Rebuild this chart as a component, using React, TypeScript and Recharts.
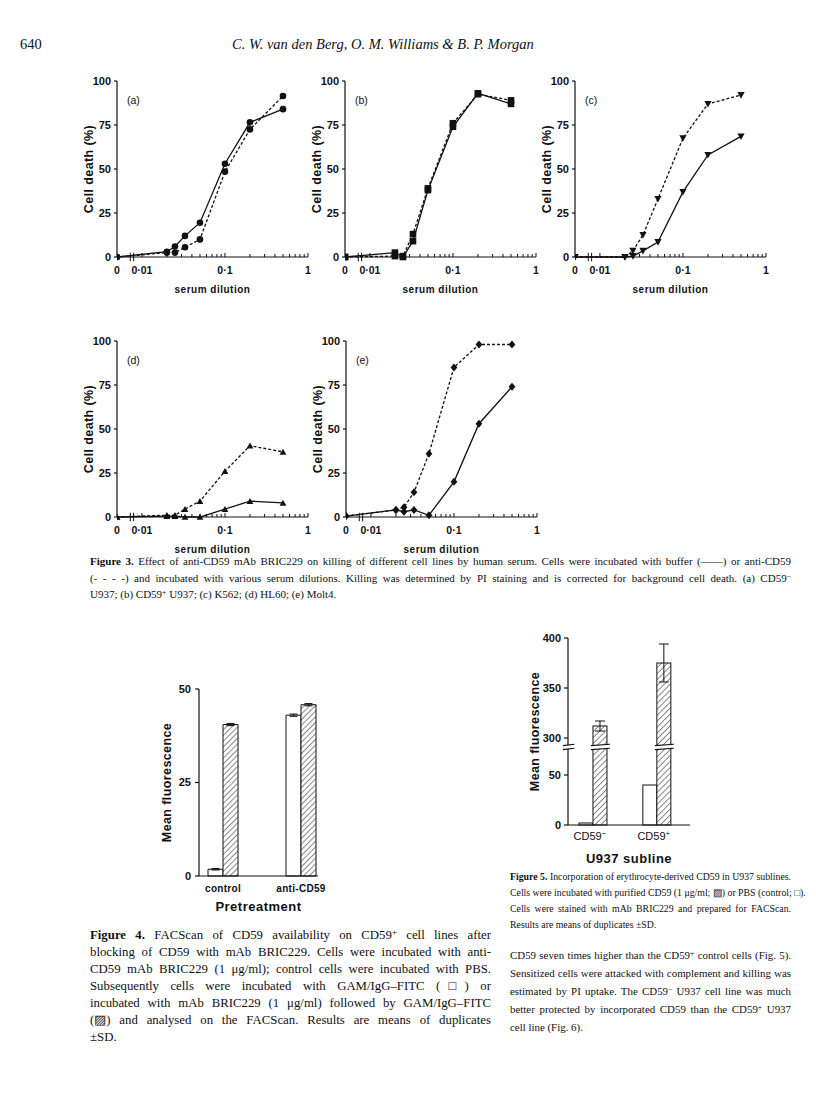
import React from "react";
import {
  LineChart,
  Line,
  XAxis,
  YAxis,
  BarChart,
  Bar,
  ErrorBar,
  ReferenceLine,
} from "recharts";

// ---------- Figure 3: cell death (%) vs serum dilution ----------
const DILUTIONS = [0, 0.02, 0.025, 0.033, 0.05, 0.1, 0.2, 0.5];
const X_TICK_VALUES = [0, 0.01, 0.1, 1];
const X_TICK_LABELS = ["0", "0·01", "0·1", "1"];
const Y_TICKS = [0, 25, 50, 75, 100];

const BUFFER_A = [0, 3, 6, 12, 19.5, 53, 76.5, 84];
const ANTI_A = [0, 2.5, 2.5, 5.5, 10, 48.5, 72.5, 91.5];
const BUFFER_B = [0, 2.5, 0, 9, 38, 74, 93, 87];
const ANTI_B = [0, 0.5, 0.5, 13, 39, 76, 92.5, 89];
const BUFFER_C = [0, 0, 0.5, 3.5, 8.5, 37, 58, 68.5];
const ANTI_C = [0, 0, 3.5, 12.5, 33, 67.5, 87, 92];
const BUFFER_D = [0, 0.5, 0.5, 0, 0, 4.5, 9, 8];
const ANTI_D = [0, 1, 1, 4.5, 9, 26, 40.5, 37];
const BUFFER_E = [0.5, 4, 3, 4, 1, 20, 53, 74];
const ANTI_E = [0.5, 4, 5.5, 14, 36, 85, 98, 98];

// ---------- Figure 4 ----------
const FIG4_GROUPS = ["control", "anti-CD59"];
const FIG4_GAM = [1.8, 43];
const FIG4_GAM_SD = [0.2, 0.3];
const FIG4_BRIC = [40.5, 45.8];
const FIG4_BRIC_SD = [0.3, 0.3];
const FIG4_TICKS = [0, 25, 50];

// ---------- Figure 5 ----------
const FIG5_GROUPS = ["−", "+"]; // CD59 superscript
const FIG5_PBS = [2, 40];
const FIG5_CD59 = [312, 375];
const FIG5_CD59_SD = [5, 19];
const FIG5_TICKS = [0, 50, 300, 350, 400];

const SANS = '"Liberation Sans", Arial, Helvetica, sans-serif';
const SERIF = '"Liberation Serif", "Times New Roman", serif';
const INK = "#111";

// log axis, the "0" dilution sits left of the break
const ZERO_POS = -2.3;
const toAxis = (d: number) => (d === 0 ? ZERO_POS : Math.log10(d));
const MINOR_TICKS = [0.01, 0.1].flatMap((dec) =>
  [2, 3, 4, 5, 6, 7, 8, 9].map((k) => Math.log10(k * dec))
);
const ALL_X_TICKS = [...X_TICK_VALUES.map(toAxis), ...MINOR_TICKS];

const LogTick = (props: any) => {
  const { x, y, payload } = props;
  const i = X_TICK_VALUES.findIndex((v) => Math.abs(toAxis(v) - payload.value) < 1e-6);
  if (i < 0) {
    return <line x1={x} x2={x} y1={y} y2={y - 3} stroke={INK} strokeWidth={1} />;
  }
  return (
    <g>
      {i > 0 && <line x1={x} x2={x} y1={y} y2={y - 4} stroke={INK} strokeWidth={1} />}
      <text x={x} y={y + 17} textAnchor="middle" fontSize={10.5} fontWeight={700} fontFamily={SANS} fill={INK}>
        {X_TICK_LABELS[i]}
      </text>
    </g>
  );
};

type Shape = "circle" | "square" | "triDown" | "triUp" | "diamond";

const renderDot = (shape: Shape) => (props: any) => {
  const { cx, cy, index } = props;
  const k = `d-${index}`;
  if (cx == null || cy == null) return <g key={k} />;
  switch (shape) {
    case "circle":
      return <circle key={k} cx={cx} cy={cy} r={3.3} fill={INK} />;
    case "square":
      return <rect key={k} x={cx - 3.3} y={cy - 3.3} width={6.6} height={6.6} fill={INK} />;
    case "triDown":
      return <path key={k} d={`M${cx - 3.6},${cy - 3} L${cx + 3.6},${cy - 3} L${cx},${cy + 3.6} Z`} fill={INK} />;
    case "triUp":
      return <path key={k} d={`M${cx - 3.4},${cy + 2.8} L${cx + 3.4},${cy + 2.8} L${cx},${cy - 3.2} Z`} fill={INK} />;
    default:
      return <path key={k} d={`M${cx},${cy - 4} L${cx + 3.4},${cy} L${cx},${cy + 4} L${cx - 3.4},${cy} Z`} fill={INK} />;
  }
};

const VTitle = ({ viewBox, offset, text, size }: any) => {
  const cx = viewBox.x + viewBox.width - offset;
  const cy = viewBox.y + viewBox.height / 2;
  return (
    <text
      x={cx}
      y={cy}
      transform={`rotate(-90 ${cx} ${cy})`}
      textAnchor="middle"
      dominantBaseline="central"
      fontSize={size}
      fontWeight={700}
      letterSpacing={0.4}
      fontFamily={SANS}
      fill={INK}
    >
      {text}
    </text>
  );
};

const HTitle = ({ viewBox, dy, text, size }: any) => (
  <text
    x={viewBox.x + viewBox.width / 2}
    y={viewBox.y + dy}
    textAnchor="middle"
    fontSize={size}
    fontWeight={700}
    letterSpacing={0.5}
    fontFamily={SANS}
    fill={INK}
  >
    {text}
  </text>
);

const AXIS = { stroke: INK, strokeWidth: 1.2 };
const TICK_STYLE = { fontSize: 11, fontWeight: 700, fill: INK, fontFamily: SANS };

const PW = 191;
const PH = 176;
const YW = 60;
const MT = 10;
const XH = 45;
const MR = 12;

interface PanelProps {
  letter: string;
  left: number;
  top: number;
  buffer: number[];
  anti: number[];
  shape: Shape;
}

function DeathPanel({ letter, left, top, buffer, anti, shape }: PanelProps) {
  const data = DILUTIONS.map((d, i) => ({ pos: toAxis(d), buffer: buffer[i], anti: anti[i] }));
  return (
    <div style={{ position: "absolute", left: left - YW, top: top - MT }}>
      <LineChart
        width={YW + PW + MR}
        height={MT + PH + XH}
        data={data}
        margin={{ top: MT, right: MR, bottom: 0, left: 0 }}
      >
        <XAxis
          type="number"
          dataKey="pos"
          domain={[ZERO_POS, 0]}
          ticks={ALL_X_TICKS}
          interval={0}
          allowDataOverflow
          tick={<LogTick />}
          tickLine={false}
          tickSize={0}
          tickMargin={0}
          height={XH}
          axisLine={AXIS}
          label={{ content: (p: any) => <HTitle viewBox={p.viewBox} dy={35.5} text="serum dilution" size={10} /> }}
        />
        <YAxis
          type="number"
          domain={[0, 100]}
          ticks={Y_TICKS}
          interval={0}
          width={YW}
          tickSize={3}
          tickMargin={3}
          axisLine={AXIS}
          tickLine={AXIS}
          tick={TICK_STYLE}
          label={{ content: (p: any) => <VTitle viewBox={p.viewBox} offset={28} text="Cell death (%)" size={12.5} /> }}
        />
        <ReferenceLine
          segment={[{ x: -2.14, y: -2.4 }, { x: -2.14, y: 2.4 }]}
          stroke={INK}
          strokeWidth={1}
          ifOverflow="visible"
        />
        <ReferenceLine
          segment={[{ x: -2.1, y: -2.4 }, { x: -2.1, y: 2.4 }]}
          stroke={INK}
          strokeWidth={1}
          ifOverflow="visible"
        />
        <Line
          dataKey="buffer"
          stroke={INK}
          strokeWidth={1.3}
          dot={renderDot(shape)}
          activeDot={false}
          isAnimationActive={false}
        />
        <Line
          dataKey="anti"
          stroke={INK}
          strokeWidth={1.3}
          strokeDasharray="3 2"
          dot={renderDot(shape)}
          activeDot={false}
          isAnimationActive={false}
        />
      </LineChart>
      <div
        style={{
          position: "absolute",
          left: YW + 10,
          top: MT + 13,
          fontFamily: SANS,
          fontSize: 10.5,
          color: INK,
        }}
      >
        ({letter})
      </div>
    </div>
  );
}

// ---------- Figure 4 ----------
const F4_PW = 119;
const F4_PH = 187;

const fig4Data = FIG4_GROUPS.map((g, i) => ({
  pos: i,
  gam: FIG4_GAM[i],
  gamSd: FIG4_GAM_SD[i],
  bric: FIG4_BRIC[i],
  bricSd: FIG4_BRIC_SD[i],
}));

const Fig4Tick = (props: any) => {
  const { x, y, payload } = props;
  return (
    <text x={x} y={y + 15.5} textAnchor="middle" fontSize={10} fontWeight={700} letterSpacing={0.3} fontFamily={SANS} fill={INK}>
      {FIG4_GROUPS[payload.value]}
    </text>
  );
};

function Figure4() {
  return (
    <div style={{ position: "absolute", left: 199 - 50, top: 689 - 10 }}>
      <BarChart
        width={50 + F4_PW + 20}
        height={10 + F4_PH + 45}
        data={fig4Data}
        margin={{ top: 10, right: 20, bottom: 0, left: 0 }}
        barGap={0}
      >
        <defs>
          <pattern id="hatch4" patternUnits="userSpaceOnUse" width={4} height={4} patternTransform="rotate(45)">
            <rect width={4} height={4} fill="#fff" />
            <line x1={0} y1={0} x2={0} y2={4} stroke={INK} strokeWidth={1} />
          </pattern>
        </defs>
        <XAxis
          type="number"
          dataKey="pos"
          domain={[-0.308, 1.218]}
          ticks={[0, 1]}
          interval={0}
          allowDataOverflow
          tick={<Fig4Tick />}
          tickLine={false}
          tickSize={0}
          tickMargin={0}
          height={45}
          axisLine={AXIS}
          label={{ content: (p: any) => <HTitle viewBox={p.viewBox} dy={34.5} text="Pretreatment" size={13} /> }}
        />
        <YAxis
          type="number"
          domain={[0, 50]}
          ticks={FIG4_TICKS}
          interval={0}
          width={50}
          tickSize={4}
          tickMargin={4}
          axisLine={AXIS}
          tickLine={AXIS}
          tick={TICK_STYLE}
          label={{ content: (p: any) => <VTitle viewBox={p.viewBox} offset={32} text="Mean fluorescence" size={12.5} /> }}
        />
        <Bar dataKey="gam" barSize={15} fill="#fff" stroke={INK} strokeWidth={1} isAnimationActive={false}>
          <ErrorBar dataKey="gamSd" width={4} stroke={INK} strokeWidth={1} />
        </Bar>
        <Bar dataKey="bric" barSize={15} fill="url(#hatch4)" stroke={INK} strokeWidth={1} isAnimationActive={false}>
          <ErrorBar dataKey="bricSd" width={4} stroke={INK} strokeWidth={1} />
        </Bar>
      </BarChart>
    </div>
  );
}

// ---------- Figure 5 (broken y axis: 76..288 is cut out) ----------
const F5_PW = 122;
const F5_PH = 187;
const GAP = 213;
const BREAK_LO = 76;
const BREAK_HI = 80;
const T_MAX = 400 - GAP;
const toT = (v: number) => (v <= BREAK_LO ? v : v - GAP);
const fromT = (t: number) => (t <= BREAK_LO ? t : t + GAP);
const X5_MIN = -0.39;
const X5_MAX = 1.52;

const fig5Data = FIG5_GROUPS.map((g, i) => ({
  pos: i,
  pbs: toT(FIG5_PBS[i]),
  cd59: toT(FIG5_CD59[i]),
  cd59Sd: FIG5_CD59_SD[i],
}));

const BrokenBar = (props: any) => {
  const { x, y, width, height, fill } = props;
  if (width == null || height == null) return <g />;
  const ppu = F5_PH / T_MAX;
  const bottom = y + height;
  const yLo = bottom - BREAK_LO * ppu;
  const yHi = bottom - BREAK_HI * ppu;
  const broken = y < yHi;
  return (
    <g>
      <rect x={x} y={y} width={width} height={height} fill={fill} stroke={INK} strokeWidth={1} />
      {broken && (
        <g>
          <rect x={x - 1} y={yHi} width={width + 2} height={yLo - yHi} fill="#fff" />
          <line x1={x - 2} y1={yHi + 0.6} x2={x + width + 3} y2={yHi - 0.8} stroke={INK} strokeWidth={1.1} />
          <line x1={x - 2} y1={yLo + 0.6} x2={x + width + 3} y2={yLo - 0.8} stroke={INK} strokeWidth={1.1} />
        </g>
      )}
    </g>
  );
};

const Fig5Tick = (props: any) => {
  const { x, y, payload } = props;
  return (
    <text x={x - 3} y={y + 15} textAnchor="middle" fontSize={11} fontFamily={SANS} fill={INK}>
      CD59
      <tspan dy={-4} fontSize={8}>
        {FIG5_GROUPS[payload.value]}
      </tspan>
    </text>
  );
};

function Figure5() {
  return (
    <div style={{ position: "absolute", left: 568 - 50, top: 638 - 10 }}>
      <BarChart
        width={50 + F5_PW + 20}
        height={10 + F5_PH + 45}
        data={fig5Data}
        margin={{ top: 10, right: 20, bottom: 0, left: 0 }}
        barGap={0}
      >
        <defs>
          <pattern id="hatch5" patternUnits="userSpaceOnUse" width={4.2} height={4.2} patternTransform="rotate(45)">
            <rect width={4.2} height={4.2} fill="#fff" />
            <line x1={0} y1={0} x2={0} y2={4.2} stroke={INK} strokeWidth={1} />
          </pattern>
        </defs>
        <XAxis
          type="number"
          dataKey="pos"
          domain={[X5_MIN, X5_MAX]}
          ticks={[0, 1]}
          interval={0}
          allowDataOverflow
          tick={<Fig5Tick />}
          tickLine={false}
          tickSize={0}
          tickMargin={0}
          height={45}
          axisLine={AXIS}
          label={{ content: (p: any) => <HTitle viewBox={p.viewBox} dy={37.5} text="U937  subline" size={13} /> }}
        />
        <YAxis
          type="number"
          domain={[0, T_MAX]}
          ticks={FIG5_TICKS.map(toT)}
          tickFormatter={(t: number) => String(Math.round(fromT(t)))}
          interval={0}
          width={50}
          tickSize={4}
          tickMargin={3}
          axisLine={false}
          tickLine={AXIS}
          tick={TICK_STYLE}
          label={{ content: (p: any) => <VTitle viewBox={p.viewBox} offset={33} text="Mean fluorescence" size={12.5} /> }}
        />
        <ReferenceLine
          segment={[{ x: X5_MIN, y: 0 }, { x: X5_MIN, y: BREAK_LO }]}
          stroke={INK}
          strokeWidth={1.2}
          ifOverflow="visible"
        />
        <ReferenceLine
          segment={[{ x: X5_MIN, y: BREAK_HI }, { x: X5_MIN, y: T_MAX }]}
          stroke={INK}
          strokeWidth={1.2}
          ifOverflow="visible"
        />
        <ReferenceLine
          segment={[{ x: X5_MIN - 0.08, y: BREAK_LO - 0.6 }, { x: X5_MIN + 0.1, y: BREAK_LO + 0.8 }]}
          stroke={INK}
          strokeWidth={1.1}
          ifOverflow="visible"
        />
        <ReferenceLine
          segment={[{ x: X5_MIN - 0.08, y: BREAK_HI - 0.6 }, { x: X5_MIN + 0.1, y: BREAK_HI + 0.8 }]}
          stroke={INK}
          strokeWidth={1.1}
          ifOverflow="visible"
        />
        <Bar dataKey="pbs" barSize={14} fill="#fff" shape={<BrokenBar />} isAnimationActive={false} />
        <Bar dataKey="cd59" barSize={14} fill="url(#hatch5)" shape={<BrokenBar />} isAnimationActive={false}>
          <ErrorBar dataKey="cd59Sd" width={5} stroke={INK} strokeWidth={1} />
        </Bar>
      </BarChart>
    </div>
  );
}

// ---------- page text ----------
interface ParaProps {
  left: number;
  top: number;
  width: number;
  fontSize: number;
  lineHeight: number;
  lines: React.ReactNode[];
}

function Para({ left, top, width, fontSize, lineHeight, lines }: ParaProps) {
  return (
    <div
      style={{
        position: "absolute",
        left,
        top,
        width,
        fontFamily: SERIF,
        fontSize,
        lineHeight: `${lineHeight}px`,
        color: INK,
      }}
    >
      {lines.map((ln, i) => (
        <div
          key={i}
          style={{
            whiteSpace: "nowrap",
            textAlign: "justify",
            textAlignLast: i === lines.length - 1 ? "left" : "justify",
          }}
        >
          {ln}
        </div>
      ))}
    </div>
  );
}

const SUP: React.CSSProperties = { fontSize: "0.7em", verticalAlign: "0.45em", lineHeight: 0 };

export default function App() {
  return (
    <div
      style={{
        position: "absolute",
        left: 0,
        top: 0,
        width: 816,
        height: 1114,
        background: "#fff",
        overflow: "hidden",
      }}
    >
      <div style={{ position: "absolute", left: 20, top: 36, fontFamily: SERIF, fontSize: 14.5, color: INK }}>640</div>
      <div
        style={{
          position: "absolute",
          left: 232,
          top: 36,
          width: 290,
          textAlign: "center",
          fontFamily: SERIF,
          fontStyle: "italic",
          fontSize: 14.5,
          color: INK,
          whiteSpace: "nowrap",
        }}
      >
        C. W. van den Berg, O. M. Williams &amp; B. P. Morgan
      </div>

      <DeathPanel letter="a" left={117} top={81} buffer={BUFFER_A} anti={ANTI_A} shape="circle" />
      <DeathPanel letter="b" left={345} top={81} buffer={BUFFER_B} anti={ANTI_B} shape="square" />
      <DeathPanel letter="c" left={575} top={81} buffer={BUFFER_C} anti={ANTI_C} shape="triDown" />
      <DeathPanel letter="d" left={117} top={341} buffer={BUFFER_D} anti={ANTI_D} shape="triUp" />
      <DeathPanel letter="e" left={346} top={341} buffer={BUFFER_E} anti={ANTI_E} shape="diamond" />

      <Para
        left={90}
        top={553}
        width={701}
        fontSize={11}
        lineHeight={16.5}
        lines={[
          <>
            <b>Figure 3.</b> Effect of anti-CD59 mAb BRIC229 on killing of different cell lines by human serum. Cells were
            incubated with buffer (——) or anti-CD59
          </>,
          <>
            (- - - -) and incubated with various serum dilutions. Killing was determined by PI staining and is corrected for
            background cell death. (a) CD59<span style={SUP}>−</span>
          </>,
          <>
            U937; (b) CD59<span style={SUP}>+</span> U937; (c) K562; (d) HL60; (e) Molt4.
          </>,
        ]}
      />

      <Figure4 />
      <Figure5 />

      <Para
        left={510}
        top={869}
        width={281}
        fontSize={9.8}
        lineHeight={16}
        lines={[
          <>
            <b>Figure 5.</b> Incorporation of erythrocyte-derived CD59 in U937 sublines.
          </>,
          <>Cells were incubated with purified CD59 (1 μg/ml; ▨) or PBS (control; □).</>,
          <>Cells were stained with mAb BRIC229 and prepared for FACScan.</>,
          <>Results are means of duplicates ±SD.</>,
        ]}
      />

      <Para
        left={90}
        top={926.5}
        width={401}
        fontSize={12.8}
        lineHeight={17}
        lines={[
          <>
            <b>Figure 4.</b> FACScan of CD59 availability on CD59<span style={SUP}>+</span> cell lines after
          </>,
          <>blocking of CD59 with mAb BRIC229. Cells were incubated with anti-</>,
          <>CD59 mAb BRIC229 (1 μg/ml); control cells were incubated with PBS.</>,
          <>Subsequently cells were incubated with GAM/IgG–FITC (□) or</>,
          <>incubated with mAb BRIC229 (1 μg/ml) followed by GAM/IgG–FITC</>,
          <>(▨) and analysed on the FACScan. Results are means of duplicates</>,
          <>±SD.</>,
        ]}
      />

      <Para
        left={510}
        top={946}
        width={281}
        fontSize={10.9}
        lineHeight={18}
        lines={[
          <>
            CD59 seven times higher than the CD59<span style={SUP}>+</span> control cells (Fig. 5).
          </>,
          <>Sensitized cells were attacked with complement and killing was</>,
          <>
            estimated by PI uptake. The CD59<span style={SUP}>−</span> U937 cell line was much
          </>,
          <>
            better protected by incorporated CD59 than the CD59<span style={SUP}>+</span> U937
          </>,
          <>cell line (Fig. 6).</>,
        ]}
      />
    </div>
  );
}
